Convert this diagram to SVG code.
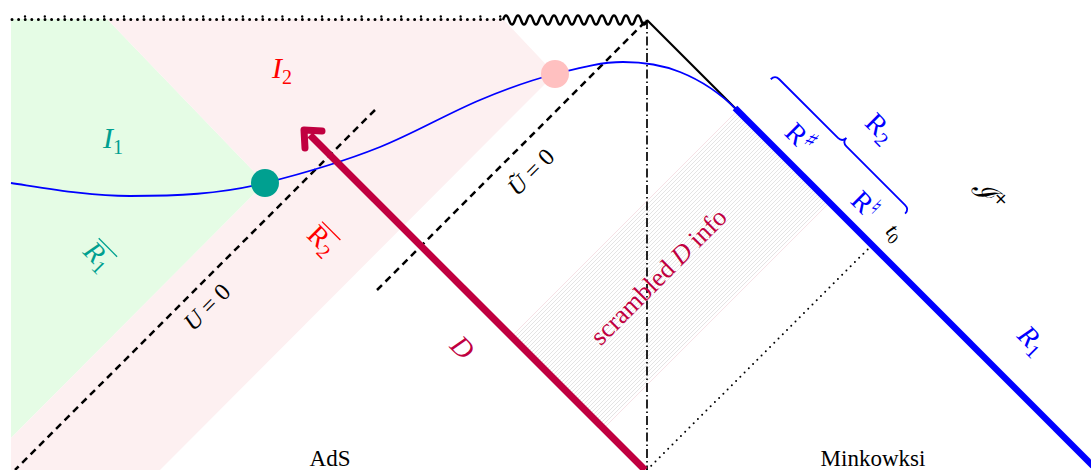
<svg xmlns="http://www.w3.org/2000/svg" width="1091" height="470" viewBox="0 0 1091 470">
<style>
.m{font-family:"Liberation Serif","DejaVu Serif",serif;font-style:italic}
.r{font-family:"Liberation Serif","DejaVu Serif",serif}
.dash{fill:none;stroke:#000;stroke-width:2.5;stroke-dasharray:7 5}
</style>
<defs>
<pattern id="hatch" patternUnits="userSpaceOnUse" width="4" height="4">
<path d="M0,4 L4,0 M-1,1 L1,-1 M3,5 L5,3" stroke="#d2d2d2" stroke-width="0.6"/>
</pattern>
</defs>
<g id="regions">
<polygon points="11,19 107,19 265,183 11,438" fill="#e5fce5"/>
<polygon points="107,19 503,19 555,74 160,470 11,470 11,438 265,183" fill="#fdf0f1"/>
<polygon points="514,334 736.5,111.5 828.5,203.5 606,426" fill="url(#hatch)"/>
<path d="M514,334 L736.5,111.5 M828.5,203.5 L606,426" stroke="#f6dde2" stroke-width="0.8"/>
</g>
<g id="connectors">
<line x1="12" y1="19.5" x2="503" y2="19.5" stroke="#000" stroke-width="3" stroke-linecap="round" stroke-dasharray="0 6.6"/>
<line x1="25" y1="16.5" x2="503" y2="16.5" stroke="#000" stroke-width="2.4" stroke-linecap="round" stroke-dasharray="0 19.8"/>
<path d="M503,20 q3,-9 6,0 t6,0 t6,0 t6,0 t6,0 t6,0 t6,0 t6,0 t6,0 t6,0 t6,0 t6,0 t6,0 t6,0 t6,0 t6,0 t6,0 t6,0 t6,0 t6,0 t6,0 t6,0 t6,0 t6,0" fill="none" stroke="#000" stroke-width="2.4"/>
<line x1="647" y1="20" x2="737" y2="110" stroke="#000" stroke-width="2.2"/>
<line x1="647" y1="20" x2="647" y2="470" stroke="#000" stroke-width="1.7" stroke-dasharray="9 3 1.5 3"/>
<line x1="375" y1="110" x2="15" y2="470" class="dash"/>
<line x1="645" y1="22" x2="375" y2="292" class="dash"/>
<line x1="647" y1="470" x2="871" y2="246" stroke="#000" stroke-width="2" stroke-linecap="round" stroke-dasharray="0 6"/>
<line x1="735" y1="108" x2="1093" y2="466" stroke="#0000ff" stroke-width="6.5"/>
<path d="M11,183 C50.7,189 90.3,196 130,196 C175,196 220,194.3 265,183 C303.3,173.4 341.7,162.3 380,147 C413.3,133.7 446.7,114 480,100 C505,89.5 530,80.3 555,74 C577.7,68.3 600.3,62 623,62 C642,62 661,64.4 680,72 C699,79.6 718,91 737,110" fill="none" stroke="#0000ff" stroke-width="1.8"/>
<line x1="645" y1="470" x2="310" y2="135" stroke="#c00040" stroke-width="7"/>
<path d="M322,131 L304,130 L305,148" fill="none" stroke="#c00040" stroke-width="7" stroke-linecap="round" stroke-linejoin="round"/>
<path d="M0,6 Q0,0 6,0 L89,0 Q95,0 95,-6 Q95,0 101,0 L184,0 Q190,0 190,6" transform="translate(775,75) rotate(45)" fill="none" stroke="#0000ff" stroke-width="1.8"/>
</g>
<g id="dots">
<circle id="tealdot" cx="265" cy="183" r="14" fill="#00a090"/>
<circle id="pinkdot" cx="555" cy="74" r="14" fill="#ffc0c0"/>
</g>
<g id="labels">
<text class="m" x="282" y="78" font-size="30" fill="#ff0000" text-anchor="middle">I<tspan font-size="20" dy="6" font-style="normal">2</tspan></text>
<text class="m" x="113" y="148" font-size="30" fill="#00a090" text-anchor="middle">I<tspan font-size="20" dy="6" font-style="normal">1</tspan></text>
<g transform="translate(98,256) rotate(45)" fill="#00a090">
<text class="m" font-size="28" text-anchor="middle" y="9">R<tspan font-size="20" dy="5" font-style="normal">1</tspan></text>
<line x1="-12" y1="-13" x2="14" y2="-13" stroke="#00a090" stroke-width="1.3"/>
</g>
<g transform="translate(322,240) rotate(45)" fill="#ff0000">
<text class="r" font-size="28" text-anchor="middle" y="9">R<tspan font-size="20" dy="5">2</tspan></text>
<line x1="-13" y1="-13" x2="13" y2="-13" stroke="#ff0000" stroke-width="1.3"/>
</g>
<text class="m" transform="translate(207,307) rotate(-45)" font-size="24" fill="#000" text-anchor="middle" y="8">U <tspan font-style="normal">= 0</tspan></text>
<text class="m" transform="translate(531,172) rotate(-45)" font-size="24" fill="#000" text-anchor="middle" y="8">Ũ <tspan font-style="normal">= 0</tspan></text>
<text class="m" transform="translate(463,347) rotate(45)" font-size="28" fill="#c00040" text-anchor="middle" y="10">D</text>
<text class="r" transform="translate(659,277) rotate(-45)" font-size="26" fill="#c00040" text-anchor="middle" y="8">scrambled <tspan font-style="italic">D</tspan> info</text>
<text class="r" transform="translate(800,138) rotate(45)" font-size="28" fill="#0000ff" text-anchor="middle" y="9">R<tspan font-size="22" dy="-8" font-family="DejaVu Sans, sans-serif">♯</tspan></text>
<text class="r" transform="translate(865,205) rotate(45)" font-size="28" fill="#0000ff" text-anchor="middle" y="9">R<tspan font-size="22" dy="-8" font-family="DejaVu Sans, sans-serif">♮</tspan></text>
<text class="r" transform="translate(880,128) rotate(45)" font-size="28" fill="#0000ff" text-anchor="middle" y="9">R<tspan font-size="20" dy="5">2</tspan></text>
<text class="m" transform="translate(894,233) rotate(45)" font-size="22" fill="#000" text-anchor="middle" y="6">t<tspan font-size="16" dy="4" font-style="normal">0</tspan></text>
<text transform="translate(988,197) rotate(45)" font-size="28" fill="#000" text-anchor="middle" y="8" font-family="DejaVu Serif, serif" font-style="italic">ℐ<tspan font-size="18" dy="-10" font-style="normal">+</tspan></text>
<text class="m" transform="translate(1032,340) rotate(45)" font-size="28" fill="#0000ff" text-anchor="middle" y="9">R<tspan font-size="20" dy="5" font-style="normal">1</tspan></text>
<text class="r" x="330" y="466" font-size="23" fill="#000" text-anchor="middle">AdS</text>
<text class="r" x="873" y="466" font-size="23" fill="#000" text-anchor="middle">Minkowksi</text>
</g>
</svg>
